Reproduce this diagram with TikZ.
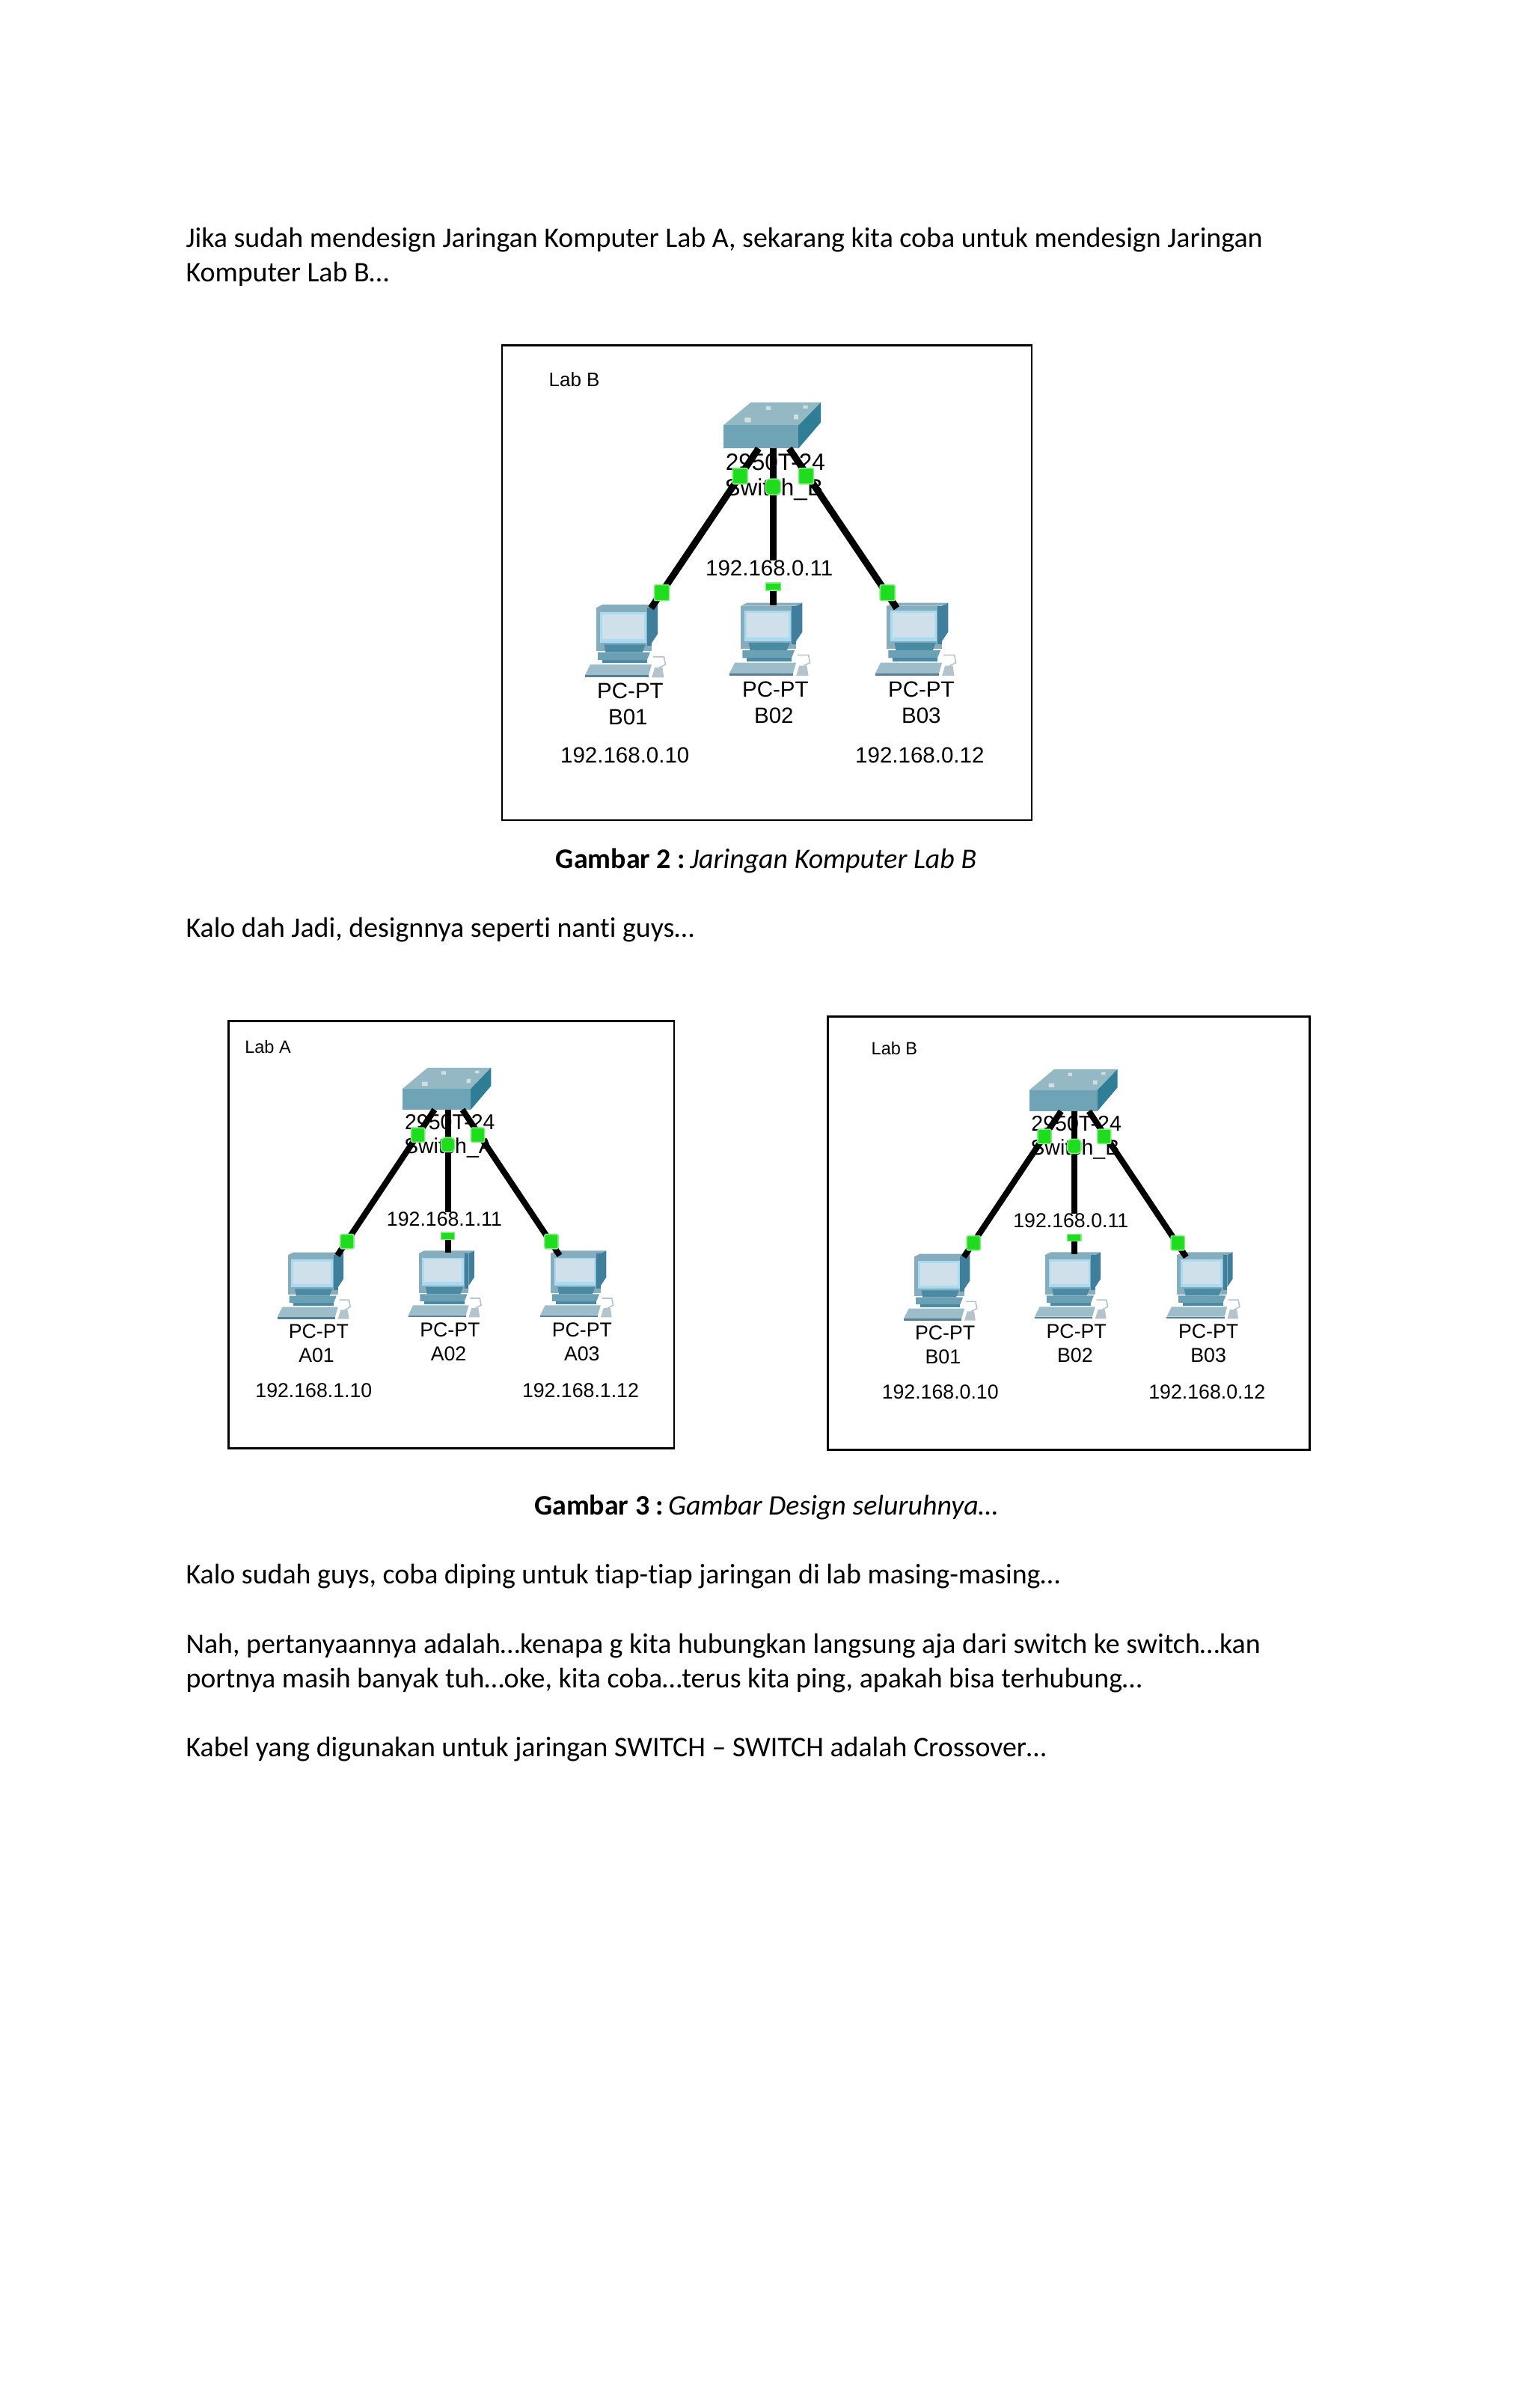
\documentclass[tikz,border=0pt]{standalone}
\usepackage{fontspec}
\setmainfont[Ligatures=CommonOff]{Carlito}
\newfontfamily\ptfont{Liberation Sans}
\definecolor{swfront}{HTML}{6FA3B6}
\definecolor{swtop}{HTML}{94B8C4}
\definecolor{swside}{HTML}{2F7E96}
\definecolor{mframe}{HTML}{86ADBD}
\definecolor{mside}{HTML}{3F7F9C}
\definecolor{mscreen}{HTML}{CFE0EA}
\definecolor{medge}{HTML}{A9DAF0}
\definecolor{pcbase}{HTML}{6CA0B5}
\definecolor{pcdark}{HTML}{4B8AA3}
\definecolor{pckey}{HTML}{9DBDCA}
\definecolor{pcmouse}{HTML}{B4C4CA}
\definecolor{linkg}{HTML}{1FDC1F}
\tikzset{
  x=2.0521pt,y=-2.0521pt,
  para/.style={anchor=base west,inner sep=0pt,font=\fontsize{37.9}{46}\selectfont,text=black},
  capline/.style={anchor=base,inner sep=0pt,font=\fontsize{37.9}{46}\selectfont,text=black},
  boxframe/.style={draw=black,line width=2.6pt},
  devtext/.style={inner sep=0pt,font=\ptfont\fontsize{29.5}{31}\selectfont,text=black},
  swtext/.style={inner sep=0pt,font=\ptfont\fontsize{31.5}{33}\selectfont,text=black},
  labtext/.style={inner sep=0pt,font=\ptfont\fontsize{26}{28}\selectfont,text=black},
  linkon/.style={fill=linkg,draw=linkg!55,line width=1.6pt,rounded corners=2pt,minimum width=20pt,minimum height=21pt,inner sep=0pt},
  linksmall/.style={fill=linkg,draw=linkg!55,line width=1.2pt,minimum width=20pt,minimum height=10pt,inner sep=0pt},
}
% #1 origin = monitor top-left
\newcommand\pcicon[1]{
  \begin{scope}[shift={(#1)}]
    \fill[mside] (36,-1) -- (40,-3) -- (40,16) -- (36,22) -- cycle;
    \fill[mframe] (0,-1) -- (36,-1) -- (40,-3) -- (4,-3) -- cycle;
    \fill[mframe] (0,-1) rectangle (36,27);
    \fill[mside] (33,-1) rectangle (36,24);
    \fill[medge] (2.5,2) rectangle (32.5,22);
    \fill[mscreen] (4,3.5) rectangle (31,19.5);
    \fill[pcdark] (5,23) -- (32,23) -- (30,28) -- (6,28) -- cycle;
    \fill[pcbase] (1,28) -- (35,28) -- (33,33) -- (1,33) -- cycle;
    \fill[pcdark] (4,33) -- (33,33) -- (33,35) -- (4,35) -- cycle;
    \fill[pckey] (-4,36) -- (36,36) -- (34,43) -- (-7.5,43) -- cycle;
    \fill[pcbase!80!black] (-7.5,43) -- (34,43) -- (34,44.5) -- (-7.5,44.5) -- cycle;
    \draw[pcmouse,line width=1.6pt] (37,31) -- (44,31) -- (45,36) -- (41,38);
    \fill[pcmouse] (38,38) -- (43,38) -- (44,44.5) -- (36,44.5) -- cycle;
  \end{scope}
}
% #1 prefix, #2 scope options, #3 lab letter, #4 subnet, #5 wire width
\newcommand\labscene[5]{
  \begin{scope}[#2,transform shape]
    % texts lie under the cables
    \node[labtext] (#1lab) at (374,247) {Lab #3};
    \node[swtext] (#1swa) at (505,301) {2950T-24};
    \node[swtext] (#1swb) at (504,319) {Switch\_#3};
    \node[devtext] (#1ipm) at (501,370) {192.168.#4.11};
    \node[devtext] (#1pta) at (410.5,450) {PC-PT};
    \node[devtext] (#1na) at (409,467) {#301};
    \node[devtext] (#1ipa) at (407,492) {192.168.#4.10};
    \node[devtext] (#1ptb) at (505,449) {PC-PT};
    \node[devtext] (#1nb) at (504,466) {#302};
    \node[devtext] (#1ptc) at (600,449) {PC-PT};
    \node[devtext] (#1nc) at (600,466) {#303};
    \node[devtext] (#1ipc) at (599,492) {192.168.#4.12};
    % switch
    \fill[swtop] (471,277) -- (489,262) -- (534.6,262) -- (520,277) -- cycle;
    \fill[swside] (520,277) -- (534.6,262) -- (534.6,275) -- (520,292) -- cycle;
    \fill[swfront] (471,277) rectangle (520,292);
    \fill[white!55!swtop] (485,275) rectangle (489,272) (499,267) rectangle (502,264.5) (523,266) rectangle (526,264) (517,273) rectangle (520,270);
    % PCs
    \pcicon{388.4,396.7}
    \pcicon{482.5,395.5}
    \pcicon{577.5,395.5}
    % cables
    \coordinate (#1swL) at (494,292);
    \coordinate (#1swM) at (503.5,292);
    \coordinate (#1swR) at (514,292);
    \coordinate (#1pcL) at (424,396);
    \coordinate (#1gap) at (503.5,365);
    \coordinate (#1pcM) at (503.5,394);
    \coordinate (#1pcR) at (584,396);
    \draw[line width=#5,black] (#1swL) -- (#1pcL);
    \draw[line width=#5,black] (#1swM) -- (#1gap);
    \draw[line width=#5,black] (#1pcM) -- ++(0,-9);
    \draw[line width=#5,black] (#1swR) -- (#1pcR);
    % link lights
    \node[linkon] (#1la) at (482,310) {};
    \node[linkon,rounded corners=5pt] (#1lb) at (503.5,317) {};
    \node[linkon] (#1lc) at (525,310) {};
    \node[linkon] (#1ld) at (431,386) {};
    \node[linksmall] (#1le) at (503.5,382) {};
    \node[linkon] (#1lf) at (578,386) {};
  \end{scope}
}
\begin{document}
\begin{tikzpicture}
\useasboundingbox (0,0) rectangle (998,1568);
\fill[white] (0,0) rectangle (998,1568);
\node[para] (t1) at (121,161) {Jika sudah mendesign Jaringan Komputer Lab A, sekarang kita coba untuk mendesign Jaringan};
\node[para] (t2) at (121,183.5) {Komputer Lab B…};
\draw[boxframe] (327,225) rectangle (672,534);
\labscene{m}{shift={(0,0)}}{B}{0}{9pt}
\node[capline] (c2) at (499,565.5) {\textbf{Gambar 2 :}\hspace{6pt}\textit{Jaringan Komputer Lab B}};
\node[para] (t3) at (121,610.5) {Kalo dah Jadi, designnya seperti nanti guys…};
\draw[boxframe] (149,665) rectangle (439,943);
\labscene{a}{shift={(-164,456)},xscale=.905,yscale=.913}{A}{1}{8pt}
\draw[boxframe] (539,662) rectangle (853,944);
\labscene{b}{shift={(244,457)},xscale=.905,yscale=.913}{B}{0}{8pt}
\node[capline] (c3) at (499,986.5) {\textbf{Gambar 3 :}\hspace{6pt}\textit{Gambar Design seluruhnya…}};
\node[para] (t4) at (121,1031.5) {Kalo sudah guys, coba diping untuk tiap-tiap jaringan di lab masing-masing…};
\node[para] (t5) at (121,1076.5) {Nah, pertanyaannya adalah…kenapa g kita hubungkan langsung aja dari switch ke switch…kan};
\node[para] (t6) at (121,1099) {portnya masih banyak tuh…oke, kita coba…terus kita ping, apakah bisa terhubung…};
\node[para] (t7) at (121,1144) {Kabel yang digunakan untuk jaringan SWITCH – SWITCH adalah Crossover…};
\end{tikzpicture}
\end{document}
